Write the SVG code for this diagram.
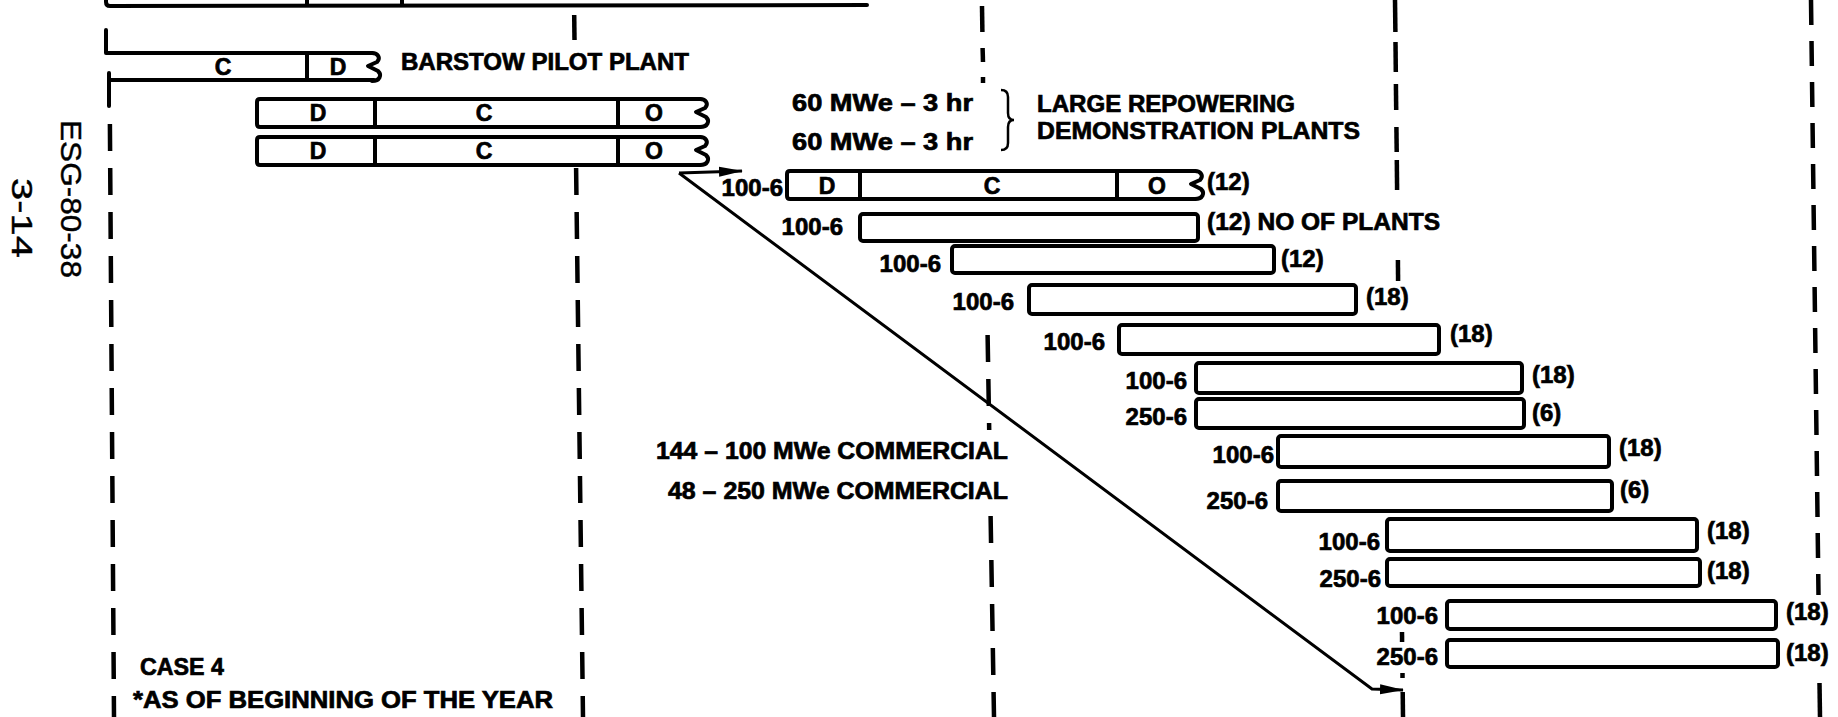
<svg xmlns="http://www.w3.org/2000/svg" xmlns:xlink="http://www.w3.org/1999/xlink" width="1838" height="717" viewBox="0 0 1838 717">
<style>
.t{font-family:"Liberation Sans",Arial,Helvetica,sans-serif;font-weight:bold;fill:#000;stroke:#000;stroke-width:0.7px}
.lbl{font-size:24px;text-anchor:end}
.cnt{font-size:24px}
.seg{font-size:23px;text-anchor:middle}
.big{font-size:24px}
.doc{font-family:"Liberation Sans",Arial,Helvetica,sans-serif;font-size:30px;fill:#000;stroke:#000;stroke-width:0.4px}
.bar{fill:#fff;stroke:#000;stroke-width:4;stroke-linejoin:round}
.ln{fill:none;stroke:#000;stroke-width:4;stroke-linejoin:round;stroke-linecap:round}
.grid{fill:none;stroke:#000;stroke-width:4.5;stroke-linecap:butt}
.dash{stroke-dasharray:27 17}
.dashE{stroke-dasharray:25 16}
.conn{fill:none;stroke:#000;stroke-width:3}
</style>
<defs>
<path id="sq" d="M0,0 C6,0 9,5 5,9 L-4,13 L6,18 C10,22 8,28 0,28" fill="none" stroke="#000" stroke-width="4" stroke-linejoin="round" stroke-linecap="round"/>
<marker id="ah" markerUnits="userSpaceOnUse" markerWidth="24" markerHeight="12" refX="23" refY="6" orient="auto">
<path d="M0,1 L24,6 L0,11 Z" fill="#000"/>
</marker>
</defs>
<rect width="1838" height="717" fill="#fff"/>

<g id="gridlines">
<line class="grid dash" x1="109.9" y1="124" x2="114" y2="717"/>
<line class="grid" x1="574.2" y1="15" x2="574.5" y2="40"/>
<line class="grid dash" x1="576.1" y1="168" x2="583" y2="717"/>
<line class="grid" x1="982" y1="6" x2="982.4" y2="32"/>
<line class="grid" x1="982.6" y1="48" x2="983" y2="62"/>
<line class="grid" x1="983" y1="77" x2="983" y2="83"/>
<line class="grid dash" x1="987.6" y1="335" x2="989.2" y2="430"/>
<line class="grid dash" x1="990.6" y1="516" x2="994" y2="717"/>
<line class="grid" x1="1395" y1="0" x2="1395.4" y2="32"/>
<line class="grid" x1="1395.5" y1="42" x2="1395.8" y2="72"/>
<line class="grid" x1="1395.9" y1="84" x2="1396.2" y2="110"/>
<line class="grid" x1="1396.4" y1="127" x2="1396.7" y2="152"/>
<line class="grid" x1="1396.8" y1="160" x2="1397.1" y2="190"/>
<line class="grid" x1="1397.9" y1="260" x2="1398.1" y2="281"/>
<line class="grid" x1="1402" y1="632" x2="1402.1" y2="642"/>
<line class="grid" x1="1402.5" y1="673" x2="1402.5" y2="678"/>
<line class="grid" x1="1402.7" y1="692" x2="1403" y2="717"/>
<line class="grid dashE" x1="1811" y1="0" x2="1818.5" y2="595"/>
<line class="grid" x1="1819.5" y1="683" x2="1820" y2="717"/>
</g>

<g id="top-bar">
<path class="ln" d="M106,0 L106,2 Q106,6 110,6 L867,5"/>
<line class="ln" x1="307" y1="0" x2="307" y2="5"/>
<line class="ln" x1="402" y1="0" x2="402" y2="5"/>
</g>

<g id="barstow">
<path class="ln" d="M106,30 L106,53 L372,53"/>
<path class="ln" d="M109,73 L109,106"/>
<path class="ln" d="M109,80 L374,80"/>
<line class="ln" x1="307" y1="53" x2="307" y2="80"/>
<use xlink:href="#sq" href="#sq" x="372" y="53"/>
<text class="t seg" x="223" y="75">C</text>
<text class="t seg" x="338" y="75">D</text>
<text class="t big" x="401" y="70" textLength="288" lengthAdjust="spacingAndGlyphs">BARSTOW PILOT PLANT</text>
</g>

<g id="repower-1">
<path class="ln" d="M700,99 L260,99 Q257,99 257,102 L257,124 Q257,127 260,127 L700,127"/>
<use xlink:href="#sq" href="#sq" x="700" y="99"/>
<line class="ln" x1="375" y1="99" x2="375" y2="127"/>
<line class="ln" x1="618" y1="99" x2="618" y2="127"/>
<text class="t seg" x="318" y="121">D</text>
<text class="t seg" x="484" y="121">C</text>
<text class="t seg" x="654" y="121">O</text>
<text class="t big" x="792" y="111" textLength="181" lengthAdjust="spacingAndGlyphs">60 MWe – 3 hr</text>
</g>

<g id="repower-2">
<path class="ln" d="M700,137 L260,137 Q257,137 257,140 L257,162 Q257,165 260,165 L700,165"/>
<use xlink:href="#sq" href="#sq" x="700" y="137"/>
<line class="ln" x1="375" y1="137" x2="375" y2="165"/>
<line class="ln" x1="618" y1="137" x2="618" y2="165"/>
<text class="t seg" x="318" y="159">D</text>
<text class="t seg" x="484" y="159">C</text>
<text class="t seg" x="654" y="159">O</text>
<text class="t big" x="792" y="150" textLength="181" lengthAdjust="spacingAndGlyphs">60 MWe – 3 hr</text>
</g>

<g id="repower-label">
<path d="M1001,90 Q1008,90 1008,97 L1008,113 Q1008,120 1014,120 Q1008,120 1008,127 L1008,143 Q1008,150 1001,150" fill="none" stroke="#000" stroke-width="2.5"/>
<text class="t big" x="1037" y="112" textLength="258" lengthAdjust="spacingAndGlyphs">LARGE REPOWERING</text>
<text class="t big" x="1037" y="139" textLength="323" lengthAdjust="spacingAndGlyphs">DEMONSTRATION PLANTS</text>
</g>

<g id="row-1">
<text class="t lbl" x="783" y="196">100-6</text>
<path class="ln" d="M1195,171 L790,171 Q787,171 787,174 L787,196 Q787,199 790,199 L1195,199"/>
<use xlink:href="#sq" href="#sq" x="1195" y="171"/>
<line class="ln" x1="860" y1="171" x2="860" y2="199"/>
<line class="ln" x1="1117" y1="171" x2="1117" y2="199"/>
<text class="t seg" x="827" y="194">D</text>
<text class="t seg" x="992" y="194">C</text>
<text class="t seg" x="1157" y="194">O</text>
<text class="t cnt" x="1207" y="190">(12)</text>
</g>

<g id="row-2">
<text class="t lbl" x="843" y="235">100-6</text>
<rect class="bar" x="860" y="214" width="338" height="27" rx="3"/>
<text class="t cnt" x="1207" y="230" textLength="233" lengthAdjust="spacingAndGlyphs">(12) NO OF PLANTS</text>
</g>

<g id="row-3">
<text class="t lbl" x="941" y="272">100-6</text>
<rect class="bar" x="952" y="246" width="322" height="27" rx="3"/>
<text class="t cnt" x="1281" y="267">(12)</text>
</g>

<g id="row-4">
<text class="t lbl" x="1014" y="310">100-6</text>
<rect class="bar" x="1029" y="285" width="327" height="29" rx="3"/>
<text class="t cnt" x="1366" y="305">(18)</text>
</g>

<g id="row-5">
<text class="t lbl" x="1105" y="350">100-6</text>
<rect class="bar" x="1119" y="325" width="320" height="29" rx="3"/>
<text class="t cnt" x="1450" y="342">(18)</text>
</g>

<g id="row-6">
<text class="t lbl" x="1187" y="389">100-6</text>
<rect class="bar" x="1196" y="363" width="326" height="30" rx="3"/>
<text class="t cnt" x="1532" y="383">(18)</text>
</g>

<g id="row-7">
<text class="t lbl" x="1187" y="425">250-6</text>
<rect class="bar" x="1196" y="399" width="328" height="29" rx="3"/>
<text class="t cnt" x="1532" y="421">(6)</text>
</g>

<g id="row-8">
<text class="t lbl" x="1274" y="463">100-6</text>
<rect class="bar" x="1278" y="436" width="331" height="31" rx="3"/>
<text class="t cnt" x="1619" y="456">(18)</text>
</g>

<g id="row-9">
<text class="t lbl" x="1268" y="509">250-6</text>
<rect class="bar" x="1278" y="481" width="334" height="30" rx="3"/>
<text class="t cnt" x="1620" y="498">(6)</text>
</g>

<g id="row-10">
<text class="t lbl" x="1380" y="550">100-6</text>
<rect class="bar" x="1387" y="519" width="310" height="32" rx="3"/>
<text class="t cnt" x="1707" y="539">(18)</text>
</g>

<g id="row-11">
<text class="t lbl" x="1381" y="587">250-6</text>
<rect class="bar" x="1387" y="559" width="313" height="27" rx="3"/>
<text class="t cnt" x="1707" y="579">(18)</text>
</g>

<g id="row-12">
<text class="t lbl" x="1438" y="624">100-6</text>
<rect class="bar" x="1447" y="601" width="329" height="28" rx="3"/>
<text class="t cnt" x="1786" y="620">(18)</text>
</g>

<g id="row-13">
<text class="t lbl" x="1438" y="665">250-6</text>
<rect class="bar" x="1447" y="640" width="331" height="27" rx="3"/>
<text class="t cnt" x="1786" y="661">(18)</text>
</g>

<g id="commercial-note">
<text class="t big" x="656" y="459" textLength="352" lengthAdjust="spacingAndGlyphs">144 – 100 MWe COMMERCIAL</text>
<text class="t big" x="668" y="499" textLength="340" lengthAdjust="spacingAndGlyphs">48 – 250 MWe COMMERCIAL</text>
</g>

<g id="case-note">
<text class="t big" x="140" y="675" textLength="84" lengthAdjust="spacingAndGlyphs">CASE 4</text>
<text class="t big" x="133" y="708" textLength="420" lengthAdjust="spacingAndGlyphs">*AS OF BEGINNING OF THE YEAR</text>
</g>

<g id="doc-id">
<text class="doc" transform="translate(61,120) rotate(90)" textLength="158" lengthAdjust="spacingAndGlyphs">ESG-80-38</text>
<text class="doc" transform="translate(12,178) rotate(90)" textLength="80" lengthAdjust="spacingAndGlyphs">3-14</text>
</g>

<g id="connectors">
<path class="conn" d="M679,173 L742,171" marker-end="url(#ah)"/>
<path class="conn" d="M679,173 L1372,689 L1403,690" marker-end="url(#ah)"/>
</g>
</svg>
